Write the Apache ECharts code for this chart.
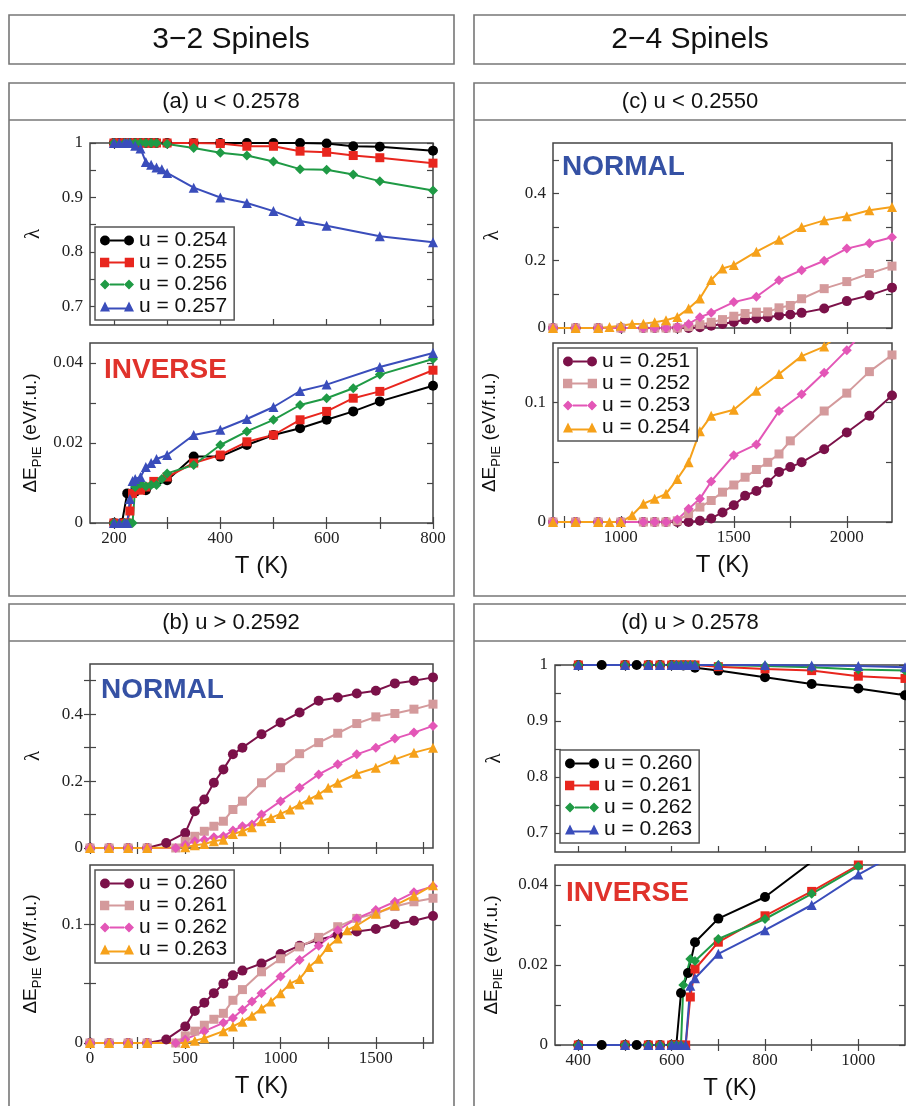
<!DOCTYPE html>
<html>
<head>
<meta charset="utf-8">
<script src="https://cdn.jsdelivr.net/npm/echarts@6/dist/echarts.min.js"></script>
<style>
html, body { margin: 0; padding: 0; background: #fff; }
#main { width: 906px; height: 1106px; }
</style>
</head>
<body>
<div id="main"></div>
<script>
// ---------------- (a) 3-2 spinels, u < 0.2578 ----------------
var a254Lam = [[200,1],[210,1],[220,1],[230,1],[240,1],[250,1],[260,1],[270,1],[280,1],[300,1],[350,1],[400,1],[450,1],[500,1],[550,1],[600,0.999],[650,0.994],[700,0.993],[800,0.986]];
var a255Lam = [[200,1],[210,1],[220,1],[230,1],[240,1],[250,1],[260,1],[270,1],[280,1],[300,1],[350,1],[400,0.999],[450,0.994],[500,0.994],[550,0.985],[600,0.983],[650,0.977],[700,0.973],[800,0.963]];
var a256Lam = [[200,1],[220,1],[230,1],[240,1],[250,1],[260,1],[270,1],[280,1],[300,0.998],[350,0.991],[400,0.982],[450,0.977],[500,0.966],[550,0.952],[600,0.951],[650,0.942],[700,0.93],[800,0.913]];
var a257Lam = [[200,1],[210,1],[220,1],[225,1],[230,1],[240,0.995],[250,0.99],[260,0.965],[270,0.96],[280,0.955],[290,0.952],[300,0.945],[350,0.918],[400,0.9],[450,0.89],[500,0.875],[550,0.857],[600,0.848],[700,0.829],[800,0.818]];

var a254dE = [[200,0],[215,0],[225,0.0074],[240,0.0078],[260,0.0082],[300,0.0107],[350,0.0166],[400,0.0166],[450,0.0195],[500,0.022],[550,0.0237],[600,0.0258],[650,0.0279],[700,0.0304],[800,0.0343]];
var a255dE = [[200,0],[220,0],[225,0],[230,0.003],[235,0.0074],[250,0.0082],[260,0.009],[275,0.0104],[300,0.0115],[350,0.015],[400,0.017],[450,0.0203],[500,0.022],[550,0.0258],[600,0.0279],[650,0.0312],[700,0.0329],[800,0.0382]];
var a256dE = [[200,0],[220,0],[230,0],[235,0],[240,0.009],[250,0.0098],[260,0.0092],[270,0.0095],[280,0.0095],[290,0.011],[300,0.0124],[350,0.0145],[400,0.0195],[450,0.0229],[500,0.0258],[550,0.0295],[600,0.0312],[650,0.0337],[700,0.0371],[800,0.041]];
var a257dE = [[200,0],[210,0],[220,0],[225,0],[230,0.006],[235,0.0105],[240,0.011],[250,0.0115],[260,0.014],[270,0.015],[280,0.016],[300,0.017],[350,0.022],[400,0.0233],[450,0.026],[500,0.029],[550,0.033],[600,0.0346],[700,0.039],[800,0.0425]];

// ---------------- (b) 3-2 spinels, u > 0.2592 ----------------
var b260Lam = [[0,0],[100,0],[200,0],[300,0],[400,0.015],[500,0.045],[550,0.11],[600,0.145],[650,0.195],[700,0.235],[750,0.28],[800,0.3],[900,0.34],[1000,0.375],[1100,0.405],[1200,0.44],[1300,0.45],[1400,0.462],[1500,0.47],[1600,0.492],[1700,0.5],[1800,0.51]];
var b261Lam = [[0,0],[100,0],[200,0],[300,0],[450,0],[500,0.02],[550,0.035],[600,0.05],[650,0.065],[700,0.08],[750,0.115],[800,0.14],[900,0.195],[1000,0.24],[1100,0.282],[1200,0.315],[1300,0.343],[1400,0.372],[1500,0.392],[1600,0.402],[1700,0.415],[1800,0.43]];
var b262Lam = [[0,0],[100,0],[200,0],[300,0],[450,0],[500,0.01],[550,0.02],[600,0.025],[650,0.032],[700,0.035],[750,0.052],[800,0.065],[850,0.07],[900,0.1],[1000,0.14],[1100,0.18],[1200,0.22],[1300,0.25],[1400,0.28],[1500,0.3],[1600,0.327],[1700,0.345],[1800,0.365]];
var b263Lam = [[0,0],[100,0],[200,0],[300,0],[500,0.002],[550,0.008],[600,0.012],[650,0.02],[700,0.025],[750,0.042],[800,0.05],[850,0.062],[900,0.08],[950,0.09],[1000,0.102],[1050,0.115],[1100,0.13],[1150,0.145],[1200,0.16],[1250,0.18],[1300,0.195],[1400,0.222],[1500,0.24],[1600,0.265],[1700,0.285],[1800,0.3]];

var b260dE = [[0,0],[100,0],[200,0],[300,0],[400,0.003],[500,0.014],[550,0.027],[600,0.034],[650,0.042],[700,0.05],[750,0.057],[800,0.061],[900,0.067],[1000,0.075],[1100,0.082],[1200,0.087],[1300,0.091],[1400,0.094],[1500,0.096],[1600,0.1],[1700,0.103],[1800,0.107]];
var b261dE = [[0,0],[100,0],[200,0],[300,0],[450,0],[500,0.006],[550,0.01],[600,0.015],[650,0.02],[700,0.025],[750,0.036],[800,0.045],[900,0.06],[1000,0.071],[1100,0.081],[1200,0.089],[1300,0.098],[1400,0.105],[1500,0.109],[1600,0.115],[1700,0.119],[1800,0.122]];
var b262dE = [[0,0],[100,0],[200,0],[300,0],[450,0],[500,0.003],[600,0.01],[700,0.017],[750,0.021],[800,0.028],[850,0.035],[900,0.042],[1000,0.056],[1100,0.07],[1200,0.082],[1300,0.095],[1400,0.105],[1500,0.112],[1600,0.119],[1700,0.127],[1800,0.132]];
var b263dE = [[0,0],[100,0],[200,0],[300,0],[500,0],[550,0.002],[600,0.004],[700,0.01],[750,0.014],[800,0.018],[850,0.023],[900,0.029],[950,0.035],[1000,0.042],[1050,0.05],[1100,0.054],[1150,0.064],[1200,0.071],[1250,0.081],[1300,0.088],[1350,0.095],[1400,0.099],[1500,0.109],[1600,0.116],[1700,0.124],[1800,0.133]];

// ---------------- (c) 2-4 spinels, u < 0.2550 ----------------
var c251Lam = [[700,0],[800,0],[900,0],[1000,0],[1100,0],[1150,0],[1200,0],[1250,0],[1300,0],[1350,0.002],[1400,0.007],[1450,0.012],[1500,0.018],[1550,0.025],[1600,0.028],[1650,0.032],[1700,0.037],[1750,0.04],[1800,0.045],[1900,0.058],[2000,0.08],[2100,0.097],[2200,0.12]];
var c252Lam = [[700,0],[800,0],[900,0],[1000,0],[1100,0],[1150,0],[1200,0],[1250,0],[1300,0.004],[1350,0.01],[1400,0.017],[1450,0.025],[1500,0.035],[1550,0.043],[1600,0.047],[1650,0.048],[1700,0.06],[1750,0.067],[1800,0.087],[1900,0.117],[2000,0.138],[2100,0.162],[2200,0.184]];
var c253Lam = [[700,0],[800,0],[900,0],[1000,0],[1100,0],[1150,0],[1200,0],[1250,0.003],[1300,0.012],[1350,0.032],[1400,0.045],[1500,0.077],[1600,0.093],[1700,0.142],[1800,0.172],[1900,0.2],[2000,0.236],[2100,0.252],[2200,0.27]];
var c254Lam = [[700,0],[800,0],[900,0],[950,0.003],[1000,0.007],[1050,0.012],[1100,0.013],[1150,0.017],[1200,0.023],[1250,0.033],[1300,0.058],[1350,0.088],[1400,0.143],[1450,0.177],[1500,0.187],[1600,0.227],[1700,0.262],[1800,0.3],[1900,0.32],[2000,0.332],[2100,0.35],[2200,0.36]];

var c251dE = [[700,0],[800,0],[900,0],[1000,0],[1100,0],[1150,0],[1200,0],[1250,0],[1300,0],[1350,0.001],[1400,0.003],[1450,0.008],[1500,0.014],[1550,0.022],[1600,0.026],[1650,0.033],[1700,0.042],[1750,0.046],[1800,0.05],[1900,0.061],[2000,0.075],[2100,0.089],[2200,0.106]];
var c252dE = [[700,0],[800,0],[900,0],[1000,0],[1100,0],[1150,0],[1200,0],[1250,0.001],[1300,0.007],[1350,0.0125],[1400,0.018],[1450,0.025],[1500,0.031],[1550,0.0375],[1600,0.044],[1650,0.05],[1700,0.057],[1750,0.068],[1900,0.093],[2000,0.108],[2100,0.126],[2200,0.14]];
var c253dE = [[700,0],[800,0],[900,0],[1000,0],[1100,0],[1150,0],[1200,0],[1250,0.002],[1300,0.011],[1350,0.0194],[1400,0.034],[1500,0.056],[1600,0.065],[1700,0.093],[1800,0.107],[1900,0.125],[2000,0.144],[2100,0.165]];
var c254dE = [[700,0],[800,0],[900,0],[950,0],[1000,0],[1050,0.0056],[1100,0.0153],[1150,0.0194],[1200,0.0236],[1250,0.036],[1300,0.05],[1350,0.076],[1400,0.089],[1500,0.094],[1600,0.11],[1700,0.124],[1800,0.139],[1900,0.147],[2000,0.163]];

// ---------------- (d) 2-4 spinels, u > 0.2578 ----------------
var d260Lam = [[400,1],[450,1],[500,1],[525,1],[550,1],[575,1],[600,1],[625,0.999],[650,0.995],[700,0.99],[800,0.978],[900,0.966],[1000,0.958],[1100,0.946]];
var d261Lam = [[400,1],[500,1],[550,1],[575,1],[600,1],[610,1],[620,1],[630,1],[640,1],[650,1],[700,0.997],[800,0.993],[900,0.99],[1000,0.98],[1100,0.976]];
var d262Lam = [[400,1],[500,1],[550,1],[575,1],[600,1],[610,1],[620,1],[630,1],[640,1],[650,1],[700,1],[800,0.998],[900,0.996],[1000,0.992],[1100,0.99]];
var d263Lam = [[400,1],[500,1],[550,1],[575,1],[600,1],[610,1],[620,1],[630,1],[640,1],[650,1],[700,1],[800,1],[900,0.999],[1000,0.998],[1100,0.996]];

var d260dE = [[400,0],[450,0],[500,0],[525,0],[550,0],[575,0],[600,0],[610,0],[620,0.013],[635,0.018],[650,0.0257],[700,0.0316],[800,0.037],[900,0.0458]];
var d261dE = [[400,0],[500,0],[550,0],[575,0],[600,0],[610,0],[620,0],[630,0],[640,0.012],[650,0.019],[700,0.0257],[800,0.0323],[900,0.0384],[1000,0.045],[1100,0.052]];
var d262dE = [[400,0],[500,0],[550,0],[575,0],[600,0],[610,0],[620,0],[625,0.015],[640,0.0215],[650,0.021],[700,0.0265],[800,0.0315],[900,0.0378],[1000,0.0446],[1100,0.051]];
var d263dE = [[400,0],[500,0],[550,0],[575,0],[600,0],[610,0],[620,0],[630,0],[640,0.0148],[650,0.0167],[700,0.0228],[800,0.0287],[900,0.035],[1000,0.0426],[1100,0.049]];

// tick values
var aXTicks = [200,300,400,500,600,700,800], aXLabels = [200,400,600,800];
var bXTicks = [0,250,500,750,1000,1250,1500,1750], bXLabels = [0,500,1000,1500];
var cXTicks = [750,1000,1250,1500,1750,2000], cXLabels = [1000,1500,2000];
var dXTicks = [400,500,600,700,800,900,1000], dXLabels = [400,600,800,1000];
var lamHiTicks = [0.7,0.75,0.8,0.85,0.9,0.95,1], lamHiLabels = [0.7,0.8,0.9,1];
var lamLoTicks = [0,0.1,0.2,0.3,0.4,0.5], lamLoLabels = [0,0.2,0.4];
var dESmTicks = [0,0.01,0.02,0.03,0.04], dESmLabels = [0,0.02,0.04];
var dEBigTicks = [0,0.05,0.1], dEBigLabels = [0,0.1];

var COL = {
  black: '#000000', red: '#e8261e', green: '#1f9a45', blue: '#3a4dbb',
  dark: '#7b1149', rose: '#d49a9c', pink: '#e356b7', orange: '#f6a11a'
};
var SERIF = '"Liberation Serif", "DejaVu Serif", serif';
var SANS = '"Liberation Sans", Arial, sans-serif';
var NARROW = '"Liberation Sans Narrow", "Liberation Sans", Arial, sans-serif';

// legend icons: marker - line - marker, 34 x 10
var ICONS = {
  circle: 'path://M0,5A5,5,0,1,1,10,5A5,5,0,1,1,0,5ZM24,5A5,5,0,1,1,34,5A5,5,0,1,1,24,5ZM10,4L24,4L24,6L10,6Z',
  rect: 'path://M0.5,0.5L9.5,0.5L9.5,9.5L0.5,9.5ZM24.5,0.5L33.5,0.5L33.5,9.5L24.5,9.5ZM9.5,4L24.5,4L24.5,6L9.5,6Z',
  diamond: 'path://M5,0L10,5L5,10L0,5ZM29,0L34,5L29,10L24,5ZM10,4L24,4L24,6L10,6Z',
  triangle: 'path://M5,0L10,10L0,10ZM29,0L34,10L24,10ZM8,6L26,6L26,8L8,8Z'
};

var grids = [], xAxes = [], yAxes = [], series = [], legends = [];

var tickStyle = {show: true, inside: true, length: 6, lineStyle: {color: '#444', width: 1.2}};
function plainNum(v) { return String(v); }

function addPlot(box, xr, yr, o) {
  var gi = grids.length;
  grids.push({left: box[0], top: box[1], width: box[2], height: box[3], show: true,
    borderColor: '#444', borderWidth: 1.5, backgroundColor: 'transparent'});
  var xi = xAxes.length;
  xAxes.push({
    gridIndex: gi, type: 'value', position: 'bottom', min: xr[0], max: xr[1],
    axisLine: {show: false}, splitLine: {show: false},
    axisTick: Object.assign({customValues: o.xTicks}, tickStyle),
    axisLabel: o.xLabels ? {show: true, customValues: o.xLabels, formatter: plainNum, fontFamily: SERIF, fontSize: 17, color: '#222', margin: 7} : {show: false},
    name: o.xLabels ? 'T (K)' : '', nameLocation: 'middle', nameGap: 31,
    nameTextStyle: {fontFamily: SANS, fontSize: 24, color: '#111'}
  });
  xAxes.push({
    gridIndex: gi, type: 'value', position: 'top', min: xr[0], max: xr[1],
    axisLine: {show: false}, splitLine: {show: false},
    axisTick: Object.assign({customValues: o.xTicks}, tickStyle), axisLabel: {show: false}
  });
  var yi = yAxes.length;
  yAxes.push({
    gridIndex: gi, type: 'value', position: 'left', min: yr[0], max: yr[1],
    axisLine: {show: false}, splitLine: {show: false},
    axisTick: Object.assign({customValues: o.yTicks}, tickStyle),
    axisLabel: {show: true, customValues: o.yLabels, formatter: plainNum, fontFamily: SERIF, fontSize: 17, color: '#222', margin: 7},
    name: o.yName, nameLocation: 'middle', nameGap: o.yGap,
    nameTextStyle: o.yNameStyle
  });
  yAxes.push({
    gridIndex: gi, type: 'value', position: 'right', min: yr[0], max: yr[1],
    axisLine: {show: false}, splitLine: {show: false},
    axisTick: Object.assign({customValues: o.yTicks}, tickStyle), axisLabel: {show: false}
  });
  return [xi, yi];
}

function addLines(ax, list) {
  list.forEach(function (s) {
    series.push({
      type: 'line', name: s[0], data: s[1], xAxisIndex: ax[0], yAxisIndex: ax[1],
      symbol: s[3], symbolSize: s[3] === 'rect' ? 9 : 10, showSymbol: true, showAllSymbol: true,
      lineStyle: {color: s[2], width: 2}, itemStyle: {color: s[2], borderWidth: 0},
      clip: true, animation: false, emphasis: {disabled: true}
    });
  });
}

function addLegend(pos, list) {
  legends.push({
    orient: 'vertical', left: pos[0], top: pos[1], selectedMode: false,
    itemWidth: 34, itemHeight: 10, itemGap: 1, padding: [3, 7, 3, 5],
    borderColor: '#555', borderWidth: 1.5, backgroundColor: '#fff',
    textStyle: {fontFamily: SANS, fontSize: 21, color: '#111'},
    formatter: function (n) { return 'u = ' + n.split('|')[1]; },
    data: list.map(function (s) { return {name: s[0], icon: ICONS[s[1]]}; })
  });
}

var lamStyle = {fontFamily: SERIF, fontSize: 21, color: '#111'};
var dEName = '{a|ΔE}{s|PIE}{a| (eV/f.u.)}';
var dEStyle = {
  color: '#111',
  rich: {
    a: {fontFamily: SANS, fontSize: 19, color: '#111', lineHeight: 23, verticalAlign: 'top'},
    s: {fontFamily: SANS, fontSize: 13, color: '#111', lineHeight: 23, verticalAlign: 'bottom'}
  }
};

function addPanel(prefix, names, colors, lamData, dEData, topBox, botBox, xr, lamRange, dERange, ticks, yGap, legendPos) {
  var syms = ['circle', 'rect', 'diamond', 'triangle'];
  var ids = names.map(function (n) { return prefix + '|' + n; });
  var ax = addPlot(topBox, xr, lamRange, {xTicks: ticks.x, yTicks: ticks.lt, yLabels: ticks.ll, yName: 'λ', yGap: yGap, yNameStyle: lamStyle});
  addLines(ax, ids.map(function (id, i) { return [id, lamData[i], colors[i], syms[i]]; }));
  ax = addPlot(botBox, xr, dERange, {xTicks: ticks.x, xLabels: ticks.xl, yTicks: ticks.et, yLabels: ticks.el, yName: dEName, yGap: yGap, yNameStyle: dEStyle});
  addLines(ax, ids.map(function (id, i) { return [id, dEData[i], colors[i], syms[i]]; }));
  addLegend(legendPos, ids.map(function (id, i) { return [id, syms[i]]; }));
}

addPanel('a', ['0.254', '0.255', '0.256', '0.257'], [COL.black, COL.red, COL.green, COL.blue],
  [a254Lam, a255Lam, a256Lam, a257Lam], [a254dE, a255dE, a256dE, a257dE],
  [90, 143, 343, 182], [90, 343, 343, 180], [155, 800], [0.666, 1], [0, 0.045],
  {x: aXTicks, xl: aXLabels, lt: lamHiTicks, ll: lamHiLabels, et: dESmTicks, el: dESmLabels}, 46, [95, 227]);

addPanel('b', ['0.260', '0.261', '0.262', '0.263'], [COL.dark, COL.rose, COL.pink, COL.orange],
  [b260Lam, b261Lam, b262Lam, b263Lam], [b260dE, b261dE, b262dE, b263dE],
  [90, 664, 343, 184], [90, 865, 343, 178], [0, 1800], [0, 0.55], [0, 0.15],
  {x: bXTicks, xl: bXLabels, lt: lamLoTicks, ll: lamLoLabels, et: dEBigTicks, el: dEBigLabels}, 46, [95, 870]);

addPanel('c', ['0.251', '0.252', '0.253', '0.254'], [COL.dark, COL.rose, COL.pink, COL.orange],
  [c251Lam, c252Lam, c253Lam, c254Lam], [c251dE, c252dE, c253dE, c254dE],
  [553, 143, 339, 185], [553, 343, 339, 179], [700, 2200], [0, 0.55], [0, 0.15],
  {x: cXTicks, xl: cXLabels, lt: lamLoTicks, ll: lamLoLabels, et: dEBigTicks, el: dEBigLabels}, 50, [558, 348]);

addPanel('d', ['0.260', '0.261', '0.262', '0.263'], [COL.black, COL.red, COL.green, COL.blue],
  [d260Lam, d261Lam, d262Lam, d263Lam], [d260dE, d261dE, d262dE, d263dE],
  [555, 665, 350, 187], [555, 865, 350, 180], [350, 1100], [0.666, 1], [0, 0.045],
  {x: dXTicks, xl: dXLabels, lt: lamHiTicks, ll: lamHiLabels, et: dESmTicks, el: dESmLabels}, 50, [560, 750]);

// frames and titles
var boxStroke = {fill: 'none', stroke: '#777', lineWidth: 1.6};
function rect(x, y, w, h) { return {type: 'rect', shape: {x: x, y: y, width: w, height: h}, style: boxStroke, silent: true}; }
function hline(x1, x2, y) { return {type: 'line', shape: {x1: x1, y1: y, x2: x2, y2: y}, style: {stroke: '#777', lineWidth: 1.6}, silent: true}; }
function label(x, y, t, size) {
  return {type: 'text', x: x, y: y, z: 10, silent: true,
    style: {text: t, fontFamily: NARROW, fontSize: size, fill: '#111', align: 'center', verticalAlign: 'middle'}};
}
function tag(x, y, t, color) {
  return {type: 'text', x: x, y: y, z: 10, silent: true,
    style: {text: t, fontFamily: SANS, fontWeight: 'bold', fontSize: 28, fill: color, align: 'left', verticalAlign: 'top'}};
}

var graphics = [
  rect(9, 15, 445, 49), rect(474, 15, 436, 49),
  rect(9, 83, 445, 513), hline(9, 454, 120),
  rect(474, 83, 436, 513), hline(474, 910, 120),
  rect(9, 604, 445, 520), hline(9, 454, 641),
  rect(474, 604, 436, 520), hline(474, 910, 641),
  label(231, 40, '3\u22122 Spinels', 30), label(690, 40, '2\u22124 Spinels', 30),
  label(231, 102, '(a) u < 0.2578', 22), label(690, 102, '(c) u < 0.2550', 22),
  label(231, 623, '(b) u > 0.2592', 22), label(690, 623, '(d) u > 0.2578', 22),
  tag(104, 356, 'INVERSE', '#e0322b'), tag(562, 153, 'NORMAL', '#3551a4'),
  tag(101, 676, 'NORMAL', '#3551a4'), tag(566, 879, 'INVERSE', '#e0322b')
];

var chart = echarts.init(document.getElementById('main'), null, {renderer: 'canvas'});
chart.setOption({
  animation: false,
  backgroundColor: '#fff',
  grid: grids,
  xAxis: xAxes,
  yAxis: yAxes,
  legend: legends,
  series: series,
  graphic: {elements: graphics}
});
</script>
</body>
</html>
